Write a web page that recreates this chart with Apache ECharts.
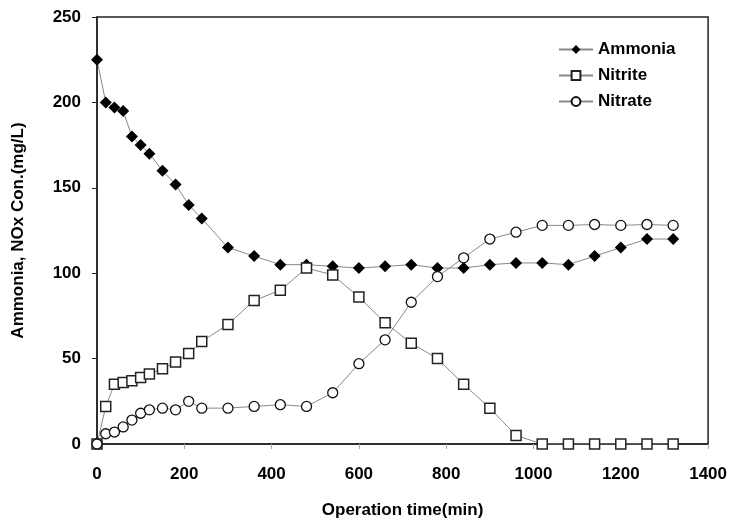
<!DOCTYPE html>
<html>
<head>
<meta charset="utf-8">
<script src="https://cdn.jsdelivr.net/npm/echarts@6/dist/echarts.min.js"></script>
<style>
    html, body { margin: 0; padding: 0; background: #fff; }
    #chart { width: 730px; height: 524px; }
</style>
</head>
<body>
<div id="chart"></div>
<script>
// operation time (min)
var timeMin = [0, 20, 40, 60, 80, 100, 120, 150, 180, 210, 240, 300, 360, 420, 480, 540, 600, 660, 720, 780, 840, 900, 960, 1020, 1080, 1140, 1200, 1260, 1320];
var ammonia = [225, 200, 197, 195, 180, 175, 170, 160, 152, 140, 132, 115, 110, 105, 105, 104, 103, 104, 105, 103, 103, 105, 106, 106, 105, 110, 115, 120, 120];
var nitrite = [0, 22, 35, 36, 37, 39, 41, 44, 48, 53, 60, 70, 84, 90, 103, 99, 86, 71, 59, 50, 35, 21, 5, 0, 0, 0, 0, 0, 0];
var nitrate = [0, 6, 7, 10, 14, 18, 20, 21, 20, 25, 21, 21, 22, 23, 22, 30, 47, 61, 83, 98, 109, 120, 124, 128, 128, 128.5, 128, 128.5, 128];

var font = 'Liberation Sans, Arial, sans-serif';

function pairs(ys) {
    var out = [];
    for (var i = 0; i < timeMin.length; ++i) {
        out.push([timeMin[i], ys[i]]);
    }
    return out;
}

var chart = echarts.init(document.getElementById('chart'));

var option = {
    animation: false,
    backgroundColor: '#fff',
    grid: {
        left: 97,
        right: 19,
        top: 17,
        bottom: 79,
        show: true,
        borderColor: '#222',
        borderWidth: 1.5
    },
    legend: {
        orient: 'vertical',
        left: 553,
        top: 36,
        itemWidth: 34,
        itemHeight: 11,
        itemGap: 9,
        textStyle: {fontFamily: font, fontSize: 17, fontWeight: 'bold', color: '#000'},
        data: ['Ammonia', 'Nitrite', 'Nitrate']
    },
    xAxis: {
        type: 'value',
        min: 0,
        max: 1400,
        interval: 200,
        name: 'Operation time(min)',
        nameLocation: 'middle',
        nameGap: 58,
        nameTextStyle: {fontFamily: font, fontSize: 17, fontWeight: 'bold', color: '#000'},
        axisLine: {lineStyle: {color: '#222', width: 1.5}},
        axisTick: {show: true, length: 5, lineStyle: {color: '#aaa'}},
        axisLabel: {
            fontFamily: font, fontSize: 17, fontWeight: 'bold', color: '#000', margin: 22,
            formatter: function (v) { return String(v); }
        },
        splitLine: {show: false}
    },
    yAxis: {
        type: 'value',
        min: 0,
        max: 250,
        interval: 50,
        name: 'Ammonia, NOx Con.(mg/L)',
        nameLocation: 'middle',
        nameGap: 70,
        nameTextStyle: {fontFamily: font, fontSize: 17, fontWeight: 'bold', color: '#000'},
        axisLine: {show: true, lineStyle: {color: '#222', width: 1.5}},
        axisTick: {show: true, length: 5, lineStyle: {color: '#222'}},
        axisLabel: {fontFamily: font, fontSize: 17, fontWeight: 'bold', color: '#000', margin: 16},
        splitLine: {show: false}
    },
    series: [
        {
            name: 'Ammonia',
            type: 'line',
            data: pairs(ammonia),
            symbol: 'diamond',
            symbolSize: 12,
            lineStyle: {color: '#888', width: 1},
            itemStyle: {color: '#000', borderColor: '#000', borderWidth: 0}
        },
        {
            name: 'Nitrite',
            type: 'line',
            data: pairs(nitrite),
            symbol: 'rect',
            symbolSize: 10,
            lineStyle: {color: '#888', width: 1},
            itemStyle: {color: '#fff', borderColor: '#222', borderWidth: 1.5}
        },
        {
            name: 'Nitrate',
            type: 'line',
            data: pairs(nitrate),
            symbol: 'circle',
            symbolSize: 10,
            lineStyle: {color: '#888', width: 1},
            itemStyle: {color: '#fff', borderColor: '#111', borderWidth: 1.3}
        }
    ]
};

chart.setOption(option);
</script>
</body>
</html>
